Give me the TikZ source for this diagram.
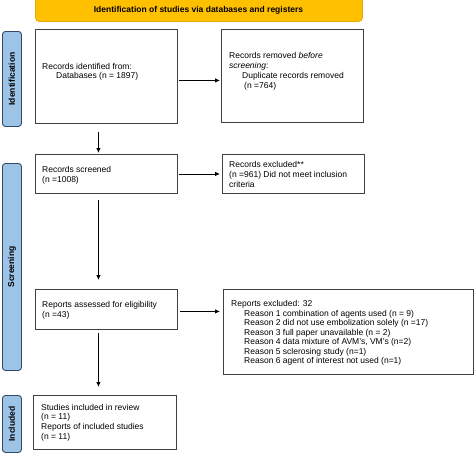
\documentclass[tikz,border=0pt]{standalone}
\usepackage{fontspec}
\setmainfont{Liberation Sans}
\usetikzlibrary{arrows.meta}
\definecolor{bannerfill}{HTML}{FFC000}
\definecolor{bannerdraw}{HTML}{E8A900}
\definecolor{sidefill}{HTML}{9DC3E6}
\definecolor{sidedraw}{HTML}{2F4B6A}
\definecolor{boxdraw}{HTML}{404040}
\tikzset{
  boxnode/.style={draw=boxdraw, line width=0.9pt, inner sep=0pt, anchor=north west},
  sidelabel/.style={draw=sidedraw, fill=sidefill, line width=0.9pt, rounded corners=3pt, inner sep=0pt, anchor=north west},
  sidetext/.style={font=\fontsize{8.5}{10}\selectfont\bfseries, rotate=90, inner sep=0pt},
  txt/.style={font=\fontsize{8.5}{10}\selectfont, anchor=base west, inner sep=0pt},
  arr/.style={line width=0.8pt, -{Latex[length=5pt,width=4.5pt]}},
}
\begin{document}
\begin{tikzpicture}[x=1pt,y=-1pt]
\useasboundingbox (0,0) rectangle (474,453);
% banner
\node[draw=bannerdraw, fill=bannerfill, line width=0.9pt, rounded corners=4pt, inner sep=0pt,
      minimum width=327pt, minimum height=28pt, anchor=north west] (banner) at (35,-7) {};
\node[font=\fontsize{8.5}{10}\selectfont\bfseries, inner sep=0pt] (bannertext) at (198.5,10) {Identification of studies via databases and registers};
% side labels
\node[sidelabel, minimum width=19pt, minimum height=95pt] (idlab) at (2,31) {};
\node[sidetext] (idtext) at (idlab.center) {Identification};
\node[sidelabel, minimum width=19pt, minimum height=207pt] (scrlab) at (2,163) {};
\node[sidetext] (scrtext) at (scrlab.center) {Screening};
\node[sidelabel, minimum width=19pt, minimum height=57pt] (inclab) at (2,395) {};
\node[sidetext] (inctext) at (inclab.center) {Included};
% boxes
\node[boxnode, minimum width=142pt, minimum height=94pt] (b1) at (35,29) {};
\node[boxnode, minimum width=142pt, minimum height=93pt] (b2) at (221,29) {};
\node[boxnode, minimum width=142pt, minimum height=39pt] (b3) at (35,154) {};
\node[boxnode, minimum width=142pt, minimum height=39pt] (b4) at (222,154) {};
\node[boxnode, minimum width=142pt, minimum height=40pt] (b5) at (35,289) {};
\node[boxnode, minimum width=250pt, minimum height=85pt] (b6) at (223,289) {};
\node[boxnode, minimum width=143pt, minimum height=54pt] (b7) at (33,395) {};
% texts
\node[txt] (t1a) at (42,69) {Records identified from:};
\node[txt] (t1b) at (56,78.5) {Databases (n = 1897)};
\node[txt] (t2a) at (229,58) {Records removed \textit{before}};
\node[txt] (t2b) at (229,68.5) {\textit{screening}:};
\node[txt] (t2c) at (242,78.5) {Duplicate records removed};
\node[txt] (t2d) at (244,88.5) {(n =764)};
\node[txt] (t3a) at (42,172) {Records screened};
\node[txt] (t3b) at (42,182) {(n =1008)};
\node[txt] (t4a) at (229,167) {Records excluded**};
\node[txt] (t4b) at (229,177) {(n =961) Did not meet inclusion};
\node[txt] (t4c) at (229,187) {criteria};
\node[txt] (t5a) at (42,307) {Reports assessed for eligibility};
\node[txt] (t5b) at (42,317) {(n =43)};
\node[txt] (t6a) at (231,306) {Reports excluded: 32};
\node[txt] (t6b) at (244,316) {Reason 1 combination of agents used (n = 9)};
\node[txt] (t6c) at (244,325.5) {Reason 2 did not use embolization solely (n =17)};
\node[txt] (t6d) at (244,335) {Reason 3 full paper unavailable (n = 2)};
\node[txt] (t6e) at (244,344.5) {Reason 4 data mixture of AVM's, VM's (n=2)};
\node[txt] (t6f) at (244,354) {Reason 5 sclerosing study (n=1)};
\node[txt] (t6g) at (244,363.5) {Reason 6 agent of interest not used (n=1)};
\node[txt] (t7a) at (41,410) {Studies included in review};
\node[txt] (t7b) at (41,419.5) {(n = 11)};
\node[txt] (t7c) at (41,429.5) {Reports of included studies};
\node[txt] (t7d) at (41,439) {(n = 11)};
% arrows
\draw[arr] ([xshift=1pt,yshift=-4pt]b1.east) -- ([xshift=-1pt,yshift=-4.5pt]b2.west);
\draw[arr] ([xshift=1pt]b3.east) -- ([xshift=-2pt]b4.west);
\coordinate (e5) at ([xshift=2pt,yshift=-2pt]b5.east);
\coordinate (w6) at (e5 -| b6.west);
\draw[arr] (e5) -- ([xshift=-3pt]w6);
\draw[arr] ([xshift=-8pt,yshift=-8pt]b1.south) -- ([xshift=-8pt,yshift=1pt]b3.north);
\draw[arr] ([xshift=-8pt,yshift=-6pt]b3.south) -- ([xshift=-8pt,yshift=9pt]b5.north);
\draw[arr] ([xshift=-8pt,yshift=-3pt]b5.south) -- ([xshift=-6.5pt,yshift=8pt]b7.north);
\end{tikzpicture}
\end{document}
